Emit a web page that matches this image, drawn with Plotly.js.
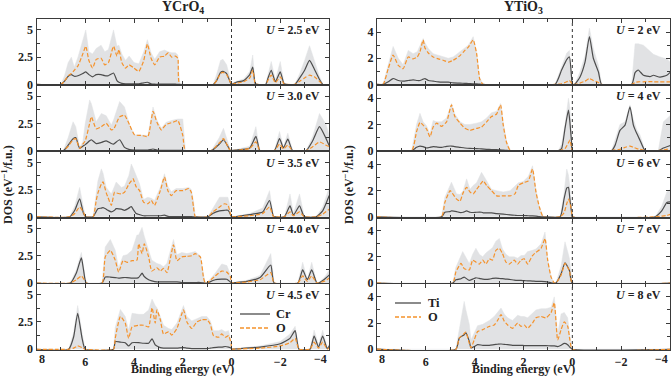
<!DOCTYPE html>
<html>
<head>
<meta charset="utf-8">
<script src="https://cdn.plot.ly/plotly-3.0.1.min.js"></script>
<style>html,body{margin:0;padding:0;background:#fff;}#chart{width:672px;height:377px;}</style>
</head>
<body>
<div id="chart"></div>
<script>
// ---------- labels ----------
const colTitles = ['YCrO<sub>4</sub>', 'YTiO<sub>3</sub>'];
const crLabels = ['2.5', '3.0', '3.5', '4.0', '4.5'];
const tiLabels = ['2', '4', '6', '7', '8'];
const crLegend = ['Cr', 'O'];
const tiLegend = ['Ti', 'O'];
const xTicksInner = [6, 4, 2, 0, -2];
const xTicksEnds = [8, -4];

// ---------- YCrO4 panels ----------
const cr25_E = [8, 7.0, 6.85, 6.7, 6.57, 6.45, 6.3, 6.1, 5.98, 5.85, 5.7, 5.55, 5.35, 5.2, 5.05, 4.84, 4.7, 4.62, 4.5, 4.35, 4.2, 4.0, 3.8, 3.6, 3.45, 3.3, 3.15, 2.95, 2.75, 2.6, 2.45, 2.3, 2.2, 2.12, 0.75, 0.6, 0.45, 0.35, 0.2, 0.05, 0.0, -0.2, -0.5, -0.75, -0.87, -0.97, -1.05, -1.4, -1.5, -1.63, -1.8, -2.0, -2.15, -2.25, -2.6, -2.8, -3.0, -3.2, -3.4, -3.6, -3.75, -4.1];
const cr25_tot = [0, 0, 0.8, 2.0, 2.5, 1.6, 2.5, 4.0, 5.0, 3.0, 2.8, 3.3, 3.6, 3.0, 3.2, 5.0, 3.5, 3.6, 2.8, 2.2, 2.6, 2.0, 1.9, 3.0, 4.1, 2.9, 2.3, 3.0, 3.15, 3.0, 2.9, 2.9, 2.7, 0, 0, 1.0, 2.2, 2.3, 1.8, 0.5, 0.05, 0.3, 0.5, 1.2, 2.7, 0.1, 0, 0, 1.0, 2.1, 0.4, 2.1, 0.2, 0, 0, 1.0, 2.2, 3.55, 2.2, 0.8, 0, 0];
const cr25_cr = [0, 0, 0.3, 0.75, 0.9, 0.75, 0.8, 1.0, 1.15, 0.9, 0.7, 0.9, 0.9, 0.8, 0.8, 1.05, 0.35, 0.2, 0.1, 0.05, 0.05, 0.05, 0.05, 0.15, 0.2, 0.05, 0.02, 0.02, 0.02, 0.02, 0.02, 0.02, 0, 0, 0, 0.4, 1.1, 1.2, 1.0, 0.2, 0, 0.2, 0.35, 0.9, 1.6, 0.1, 0, 0, 0.6, 1.3, 0.25, 1.15, 0.1, 0, 0, 0.6, 1.3, 2.2, 1.4, 0.5, 0, 0];
const cr25_o = [0, 0, 0.3, 0.8, 1.0, 1.3, 1.7, 2.8, 3.5, 2.2, 1.5, 2.3, 2.4, 1.8, 2.0, 3.5, 2.6, 3.2, 2.0, 1.5, 1.8, 1.5, 1.2, 2.2, 3.7, 2.4, 1.8, 2.5, 2.6, 2.9, 2.5, 2.6, 2.4, 0, 0, 0.4, 1.0, 1.1, 0.9, 0.2, 0, 0.1, 0.25, 0.6, 1.3, 0.1, 0, 0, 0.4, 0.85, 0.15, 0.7, 0.05, 0, 0, 0.3, 0.6, 0.85, 0.7, 0.3, 0, 0];

const cr30_E = [8, 6.9, 6.7, 6.5, 6.39, 6.23, 6.1, 6.0, 5.82, 5.75, 5.55, 5.34, 5.14, 4.93, 4.84, 4.59, 4.39, 4.18, 3.98, 3.7, 3.43, 3.22, 3.06, 2.88, 2.68, 2.4, 2.2, 2.0, 1.89, 0.83, 0.5, 0.33, 0.15, 0.05, 0, -0.19, -0.75, -1.0, -1.15, -1.2, -1.76, -1.97, -2.13, -2.31, -2.51, -3.06, -3.33, -3.61, -3.88, -4.02];
const cr30_tot = [0, 0, 1.2, 2.65, 2.2, 0.3, 0.8, 2.5, 4.65, 4.3, 2.65, 3.4, 3.2, 2.35, 2.8, 4.5, 4.0, 2.35, 1.45, 1.45, 1.4, 4.0, 2.8, 2.05, 2.6, 2.8, 2.9, 2.9, 0, 0, 1.2, 2.05, 0.8, 0.1, 0.05, 0.1, 0.4, 2.2, 0.1, 0, 0, 1.75, 0.35, 1.6, 0, 0, 1.3, 3.4, 2.4, 1.3];
const cr30_cr = [0, 0, 0.5, 1.1, 1.2, 0.2, 0.4, 0.55, 0.9, 1.0, 0.65, 0.75, 0.9, 0.65, 0.6, 1.0, 0.3, 0.1, 0.05, 0.05, 0.05, 0.15, 0.05, 0.02, 0.02, 0.02, 0.02, 0.02, 0, 0, 0.6, 1.0, 0.4, 0, 0, 0.05, 0.25, 1.3, 0.05, 0, 0, 1.1, 0.25, 1.05, 0, 0, 0.9, 2.2, 1.1, 0.4];
const cr30_o = [0, 0, 0.4, 1.0, 1.1, 0.2, 0.6, 0.9, 2.5, 3.1, 2.0, 2.2, 2.5, 1.9, 1.95, 3.1, 3.25, 2.35, 1.45, 1.4, 1.3, 3.6, 2.6, 1.9, 2.4, 2.6, 2.75, 1.4, 0, 0, 0.7, 1.1, 0.4, 0, 0, 0.02, 0.2, 0.8, 0.03, 0, 0, 0.6, 0.15, 0.5, 0, 0, 0.35, 0.8, 0.5, 0.35];

const cr35_E = [8, 6.64, 6.43, 6.23, 6.07, 5.98, 5.68, 5.55, 5.48, 5.34, 5.27, 5.14, 5.07, 4.93, 4.8, 4.73, 4.52, 4.39, 4.21, 4.11, 4.04, 3.91, 3.77, 3.61, 3.43, 3.29, 3.16, 2.92, 2.75, 2.61, 2.47, 2.27, 1.99, 1.75, 1.65, 1.56, 1.48, 0.97, 0.77, 0.49, 0.29, 0.15, 0.08, 0, -0.19, -0.74, -1.28, -1.56, -1.72, -1.8, -2.17, -2.4, -2.54, -2.79, -2.99, -3.47, -3.74, -4.01];
const cr35_tot = [0, 0, 1.0, 2.7, 0.8, 0, 0, 2.0, 3.3, 4.4, 4.0, 2.7, 2.5, 2.1, 2.8, 3.2, 2.7, 2.8, 3.8, 4.85, 4.5, 3.8, 3.0, 1.6, 1.8, 1.7, 1.5, 2.7, 3.95, 2.8, 2.3, 2.6, 2.6, 2.7, 2.5, 1.5, 0, 0, 0.7, 1.8, 1.8, 1.8, 1.2, 0, 0.05, 0.3, 0.8, 2.4, 0.1, 0, 0, 2.1, 0.3, 2.1, 0, 0, 0.9, 2.7];
const cr35_cr = [0, 0, 0.6, 1.65, 0.3, 0, 0, 0.5, 0.75, 0.8, 0.85, 0.7, 0.6, 0.45, 0.6, 0.75, 0.7, 0.6, 0.8, 0.95, 0.7, 0.3, 0.2, 0.1, 0.1, 0.1, 0.1, 0.1, 0.15, 0.05, 0.02, 0.02, 0.02, 0.02, 0.02, 0.01, 0, 0, 0.3, 0.55, 0.6, 0.6, 0.4, 0, 0.03, 0.2, 0.45, 1.5, 0.05, 0, 0, 1.0, 0.15, 1.0, 0, 0, 0.55, 1.95];
const cr35_o = [0, 0, 0.3, 0.9, 0.4, 0, 0, 1.5, 2.2, 3.0, 3.2, 2.2, 1.8, 1.05, 2.25, 2.2, 2.1, 2.25, 3.0, 3.3, 3.5, 2.75, 2.4, 1.35, 1.2, 1.5, 1.05, 2.4, 3.65, 2.4, 1.95, 2.4, 2.4, 2.6, 2.25, 0.9, 0, 0, 0.45, 0.9, 1.2, 1.1, 0.6, 0, 0.02, 0.1, 0.3, 0.9, 0.03, 0, 0, 0.45, 0.1, 0.45, 0, 0, 0.25, 0.7];

const cr40_E = [8, 6.61, 6.37, 6.16, 6.07, 5.96, 5.31, 5.18, 4.97, 4.77, 4.63, 4.45, 4.29, 4.08, 3.88, 3.81, 3.67, 3.58, 3.4, 3.27, 3.06, 2.92, 2.79, 2.65, 2.38, 2.24, 2.04, 1.83, 1.63, 1.49, 1.28, 1.15, 1.08, 1.01, 0.67, 0.4, 0.19, 0.05, 0, -0.08, -0.63, -1.17, -1.61, -1.75, -2.72, -2.92, -3.11, -3.29, -3.5, -3.57, -3.84, -4.04];
const cr40_tot = [0, 0, 1.2, 2.8, 1.5, 0, 0, 3.3, 4.0, 3.0, 1.4, 2.5, 2.6, 3.0, 4.4, 4.4, 5.1, 4.3, 3.0, 2.1, 1.8, 1.7, 1.5, 1.8, 4.0, 2.6, 2.8, 2.7, 2.8, 2.9, 2.5, 1.0, 0, 0, 0.9, 1.75, 1.6, 0.8, 0, 0.05, 0.25, 0.7, 2.7, 0, 0, 1.9, 0.3, 1.9, 0, 0, 0.6, 1.3];
const cr40_cr = [0, 0, 0.9, 2.3, 1.2, 0, 0, 0.55, 0.55, 0.5, 0.45, 0.5, 0.5, 0.45, 0.45, 0.5, 0.9, 0.6, 0.3, 0.2, 0.1, 0.1, 0.1, 0.1, 0.1, 0.1, 0.05, 0.05, 0.05, 0.05, 0.05, 0.02, 0, 0, 0.3, 0.35, 0.35, 0.1, 0, 0.02, 0.15, 0.5, 1.65, 0, 0, 1.2, 0.3, 1.2, 0, 0, 0.4, 0.8];
const cr40_o = [0, 0, 0.3, 0.65, 0.4, 0, 0, 2.4, 3.0, 2.1, 1.0, 2.05, 1.9, 2.05, 2.1, 3.6, 2.7, 3.6, 2.4, 1.1, 1.4, 1.1, 1.35, 0.95, 3.5, 2.05, 2.4, 2.45, 2.5, 2.7, 2.4, 0.5, 0, 0, 0.65, 1.1, 1.0, 0.6, 0, 0.01, 0.1, 0.3, 0.95, 0, 0, 0.65, 0.15, 0.65, 0, 0, 0.2, 0.5];

const cr45_E = [8, 6.68, 6.48, 6.31, 6.13, 6.0, 4.84, 4.77, 4.56, 4.36, 4.22, 4.08, 3.81, 3.61, 3.4, 3.26, 3.13, 3.06, 2.92, 2.79, 2.58, 2.45, 2.24, 1.97, 1.83, 1.63, 1.42, 1.22, 1.01, 0.87, 0.74, 0.53, 0.4, 0.26, 0.12, 0.01, 0, -0.08, -1.17, -2.0, -2.4, -2.61, -2.77, -3.22, -3.39, -3.57, -3.74, -3.93, -4.04];
const cr45_tot = [0, 0, 1.5, 4.0, 1.5, 0, 0, 2.0, 3.65, 3.0, 1.75, 3.3, 3.2, 3.2, 3.6, 4.6, 4.0, 3.8, 3.0, 2.2, 1.9, 1.8, 2.4, 4.0, 3.0, 2.6, 2.8, 3.0, 3.0, 2.6, 1.7, 1.7, 1.8, 1.6, 1.7, 0.7, 0, 0.05, 0.3, 0.7, 1.4, 2.1, 0, 0, 1.75, 0.4, 1.75, 0.1, 0.6];
const cr45_cr = [0, 0, 1.1, 3.3, 1.0, 0, 0, 0.7, 0.65, 0.6, 0.3, 0.6, 0.6, 0.55, 0.55, 0.95, 0.4, 0.3, 0.15, 0.1, 0.1, 0.1, 0.1, 0.15, 0.1, 0.05, 0.05, 0.05, 0.05, 0.1, 0.15, 0.2, 0.2, 0.25, 0.2, 0.1, 0, 0.02, 0.2, 0.5, 1.0, 1.7, 0, 0, 1.2, 0.2, 1.2, 0.05, 0.4];
const cr45_o = [0, 0, 0.1, 0.3, 0.15, 0, 0, 1.0, 3.0, 2.4, 1.0, 2.05, 2.2, 2.2, 2.05, 3.8, 2.4, 3.6, 2.7, 1.4, 1.6, 1.3, 1.9, 3.6, 2.5, 1.9, 2.5, 2.7, 2.7, 2.3, 1.25, 1.1, 1.4, 1.1, 1.25, 0.45, 0, 0.01, 0.1, 0.3, 0.6, 1.0, 0, 0, 0.65, 0.1, 0.65, 0.02, 0.2];

// ---------- YTiO3 panels ----------
const ti2_E = [8, 7.75, 7.54, 7.34, 7.13, 6.93, 6.72, 6.52, 6.35, 6.24, 6.11, 6.04, 5.9, 5.7, 5.49, 5.29, 5.08, 4.88, 4.6, 4.4, 4.26, 4.06, 3.92, 3.79, 3.65, 0.71, 0.44, 0.23, 0.12, 0.03, 0, -0.11, -0.31, -0.52, -0.7, -0.86, -1.07, -1.2, -2.43, -2.57, -2.7, -2.91, -3.18, -3.32, -3.59, -3.87, -4.02];
const ti2_tot = [0, 0, 1.5, 2.9, 2.0, 1.5, 2.6, 2.35, 2.5, 3.0, 3.5, 3.2, 2.75, 2.35, 2.25, 2.1, 2.0, 2.1, 2.5, 2.8, 3.0, 3.65, 2.5, 0.5, 0, 0, 1.4, 2.4, 2.6, 1.0, 0, 0.05, 0.95, 2.2, 4.3, 2.75, 1.45, 0, 0, 3.1, 3.1, 3.0, 2.5, 2.3, 2.1, 1.95, 1.7];
const ti2_ti = [0, 0, 0.2, 0.45, 0.3, 0.25, 0.3, 0.35, 0.3, 0.3, 0.4, 0.45, 0.3, 0.25, 0.2, 0.18, 0.17, 0.12, 0.1, 0.08, 0.07, 0.05, 0.05, 0.02, 0, 0, 1.1, 1.9, 2.1, 0.5, 0, 0.03, 0.55, 1.7, 3.65, 2.0, 0.95, 0, 0, 0.9, 1.1, 0.7, 0.6, 0.7, 0.55, 0.7, 0.95];
const ti2_o = [0, 0, 1.2, 2.25, 1.45, 1.2, 2.1, 1.95, 2.1, 2.5, 3.4, 2.8, 2.4, 2.1, 1.95, 1.85, 1.7, 1.85, 2.2, 2.6, 2.85, 3.4, 2.35, 0.4, 0, 0, 0.05, 0.2, 0.3, 0.1, 0, 0.01, 0.1, 0.25, 0.45, 0.3, 0.15, 0, 0, 0.15, 0.2, 0.2, 0.22, 0.2, 0.2, 0.2, 0.2];

const ti4_E = [8, 6.58, 6.38, 6.24, 6.11, 5.97, 5.83, 5.7, 5.56, 5.36, 5.15, 4.95, 4.81, 4.6, 4.4, 4.19, 3.92, 3.72, 3.51, 3.31, 3.1, 2.94, 2.83, 2.69, 2.53, 0.57, 0.44, 0.3, 0.16, 0.1, 0.03, 0, -1.61, -1.75, -1.95, -2.16, -2.36, -2.5, -2.64, -2.77, -2.98, -3.52, -3.73, -4.02];
const ti4_tot = [0, 0, 2.0, 2.85, 2.2, 1.9, 1.3, 2.3, 2.2, 2.2, 2.5, 3.6, 2.8, 2.2, 2.0, 2.0, 2.1, 2.2, 2.5, 2.9, 3.0, 3.6, 2.2, 0.7, 0, 0, 0.5, 2.0, 4.0, 3.3, 1.0, 0, 0, 0.8, 2.0, 2.2, 3.5, 2.4, 1.6, 1.2, 0, 0, 2.2, 2.7];
const ti4_ti = [0, 0, 0.25, 0.35, 0.3, 0.2, 0.25, 0.3, 0.28, 0.25, 0.33, 0.35, 0.3, 0.25, 0.2, 0.17, 0.15, 0.13, 0.1, 0.08, 0.07, 0.05, 0.04, 0.02, 0, 0, 0.15, 1.7, 3.1, 2.2, 0.6, 0, 0, 0.4, 1.55, 1.95, 3.35, 1.95, 1.3, 0.8, 0, 0, 0.2, 0.4];
const ti4_o = [0, 0, 1.45, 2.15, 1.95, 1.65, 1.05, 1.8, 2.1, 1.85, 2.2, 3.5, 2.6, 2.1, 1.7, 1.55, 1.7, 1.8, 2.2, 2.6, 2.8, 3.5, 1.95, 0.6, 0, 0, 0.05, 0.15, 0.6, 0.8, 0.2, 0, 0, 0.05, 0.1, 0.25, 0.35, 0.25, 0.15, 0.1, 0, 0, 0.05, 0.15];

const ti6_E = [8, 5.36, 5.22, 5.01, 4.95, 4.74, 4.6, 4.47, 4.33, 4.19, 4.06, 3.92, 3.72, 3.65, 3.51, 3.31, 3.1, 2.83, 2.55, 2.35, 2.21, 2.01, 1.8, 1.63, 1.49, 1.35, 1.19, 0.5, 0.34, 0.23, 0.16, 0.1, 0.03, 0, -3.39, -3.66, -3.87, -4.02];
const ti6_tot = [0, 0, 1.5, 2.5, 2.65, 1.75, 1.7, 2.0, 2.9, 2.1, 2.4, 2.6, 3.4, 3.2, 2.75, 2.1, 2.0, 1.9, 2.0, 2.4, 2.6, 2.7, 3.1, 3.9, 2.1, 0.8, 0, 0, 1.8, 3.65, 3.2, 2.3, 0.8, 0, 0, 0.8, 1.9, 2.1];
const ti6_ti = [0, 0, 0.35, 0.4, 0.45, 0.4, 0.33, 0.35, 0.45, 0.35, 0.33, 0.35, 0.35, 0.3, 0.3, 0.3, 0.25, 0.2, 0.15, 0.12, 0.1, 0.1, 0.08, 0.07, 0.05, 0.02, 0, 0, 1.35, 2.2, 2.25, 1.35, 0.3, 0, 0, 0.45, 1.1, 1.15];
const ti6_o = [0, 0, 1.1, 2.0, 1.9, 1.35, 1.2, 1.85, 2.25, 1.9, 1.75, 2.1, 2.6, 2.75, 2.4, 2.0, 1.6, 1.6, 1.6, 1.75, 2.4, 2.6, 2.75, 3.65, 1.9, 0.75, 0, 0, 0.3, 1.0, 1.35, 1.1, 0.45, 0, 0, 0.05, 0.1, 0.2];

const ti7_E = [8, 4.9, 4.77, 4.56, 4.49, 4.43, 4.22, 4.08, 3.95, 3.81, 3.67, 3.54, 3.4, 3.27, 3.13, 2.99, 2.86, 2.72, 2.58, 2.38, 2.24, 2.1, 1.97, 1.83, 1.63, 1.49, 1.28, 1.12, 1.01, 0.87, 0.74, 0.67, 0.46, 0.3, 0.12, 0, -4.1];
const ti7_tot = [0, 0, 1.2, 2.2, 2.4, 2.2, 1.5, 2.2, 2.65, 2.2, 2.0, 2.3, 2.5, 2.7, 3.2, 3.4, 2.6, 2.2, 2.0, 2.0, 1.9, 2.1, 2.1, 2.4, 2.5, 2.6, 3.0, 3.9, 1.9, 0.5, 0, 0, 1.3, 3.15, 1.9, 0, 0];
const ti7_ti = [0, 0, 0.25, 0.33, 0.4, 0.45, 0.2, 0.3, 0.4, 0.35, 0.3, 0.28, 0.3, 0.35, 0.38, 0.35, 0.33, 0.3, 0.28, 0.22, 0.2, 0.2, 0.18, 0.17, 0.15, 0.13, 0.12, 0.1, 0.08, 0.02, 0, 0, 0.7, 1.55, 0.95, 0, 0];
const ti7_o = [0, 0, 0.85, 1.5, 1.3, 1.1, 1.0, 1.75, 1.6, 1.45, 1.75, 1.45, 1.85, 1.75, 2.5, 2.65, 2.25, 1.6, 1.45, 1.75, 1.45, 1.75, 1.85, 1.45, 2.1, 2.35, 2.65, 3.4, 1.75, 0.45, 0, 0, 0.6, 1.5, 0.95, 0, 0];

const ti8_E = [8, 4.77, 4.63, 4.43, 4.36, 4.22, 4.15, 4.02, 3.88, 3.67, 3.4, 3.2, 3.06, 2.92, 2.79, 2.65, 2.45, 2.24, 2.1, 1.97, 1.83, 1.63, 1.49, 1.28, 1.08, 0.87, 0.74, 0.6, 0.46, 0.33, 0.19, 0.1, 0, -4.1];
const ti8_tot = [0, 0, 1.5, 3.65, 3.0, 1.9, 0.7, 1.2, 1.8, 1.9, 2.2, 2.5, 2.8, 3.15, 2.7, 2.4, 2.2, 2.6, 2.5, 2.5, 2.4, 2.8, 3.0, 3.1, 3.1, 3.2, 4.0, 1.2, 2.7, 2.8, 2.4, 1.0, 0, 0];
const ti8_ti = [0, 0, 0.85, 1.1, 1.25, 0.6, 0.1, 0.2, 0.35, 0.3, 0.3, 0.35, 0.38, 0.4, 0.37, 0.35, 0.3, 0.3, 0.3, 0.28, 0.27, 0.28, 0.28, 0.28, 0.27, 0.26, 0.26, 0.2, 0.3, 0.45, 0.35, 0.15, 0, 0];
const ti8_o = [0, 0, 0.85, 1.2, 1.3, 0.45, 0.1, 0.7, 1.35, 1.5, 1.75, 1.85, 2.2, 2.65, 2.15, 1.85, 1.6, 2.0, 1.75, 1.85, 1.6, 2.0, 2.4, 2.5, 2.4, 2.8, 3.55, 0.7, 1.5, 2.1, 1.75, 0.7, 0, 0];

const panelsCr = [
  [cr25_E, cr25_tot, cr25_cr, cr25_o],
  [cr30_E, cr30_tot, cr30_cr, cr30_o],
  [cr35_E, cr35_tot, cr35_cr, cr35_o],
  [cr40_E, cr40_tot, cr40_cr, cr40_o],
  [cr45_E, cr45_tot, cr45_cr, cr45_o]
];
const panelsTi = [
  [ti2_E, ti2_tot, ti2_ti, ti2_o],
  [ti4_E, ti4_tot, ti4_ti, ti4_o],
  [ti6_E, ti6_tot, ti6_ti, ti6_o],
  [ti7_E, ti7_tot, ti7_ti, ti7_o],
  [ti8_E, ti8_tot, ti8_ti, ti8_o]
];

// ---------- styling ----------
const FONT = 'Liberation Serif, DejaVu Serif, serif';
const GRAY_FILL = '#e1e2e4';
const METAL = '#4d4d4d';
const OXY = '#f5922b';
const FRAME = '#3a3a3a';
const TXT = '#222';

const W = 672, H = 377;
const M = {l: 36, r: 2, t: 19, b: 27};
const PW = W - M.l - M.r, PH = H - M.t - M.b;
const colDom = [[0.0008, (329 - M.l) / PW], [(377 - M.l) / PW, 1.0]];
function px2x(px) { return (px - M.l) / PW; }
function py2y(py) { return (M.t + PH - py) / PH; }

const traces = [];
const layout = {
  width: W, height: H, margin: M,
  paper_bgcolor: '#fff', plot_bgcolor: '#fff',
  showlegend: false,
  font: {family: FONT, size: 12, color: TXT, weight: 'bold'},
  annotations: [], shapes: []
};

function axName(i) { return i === 1 ? '' : String(i); }
function fmtTick(v) { return v < 0 ? '\u2212' + Math.abs(v) : String(v); }

for (let c = 0; c < 2; c++) {
  const panels = c === 0 ? panelsCr : panelsTi;
  const labels = c === 0 ? crLabels : tiLabels;
  for (let r = 0; r < 5; r++) {
    const idx = c * 5 + r + 1;
    const n = axName(idx);
    const [E, tot, met, o] = panels[r];
    traces.push({x: E, y: tot, xaxis: 'x' + n, yaxis: 'y' + n, type: 'scatter', mode: 'lines',
      fill: 'tozeroy', fillcolor: GRAY_FILL, line: {color: GRAY_FILL, width: 0.5}, hoverinfo: 'skip'});
    traces.push({x: E, y: met, xaxis: 'x' + n, yaxis: 'y' + n, type: 'scatter', mode: 'lines',
      line: {color: METAL, width: 1.2, shape: 'spline', smoothing: 0.5}, hoverinfo: 'skip'});
    traces.push({x: E, y: o, xaxis: 'x' + n, yaxis: 'y' + n, type: 'scatter', mode: 'lines',
      line: {color: OXY, width: 1.2, dash: '4px,2px', shape: 'spline', smoothing: 0.5}, hoverinfo: 'skip'});

    const yTop = 1 - r * 0.2, yBot = yTop - 0.2;
    layout['xaxis' + n] = {
      domain: colDom[c], anchor: 'y' + n, range: [8, -4],
      tickmode: 'array', tickvals: xTicksInner, ticktext: xTicksInner.map(fmtTick),
      showticklabels: r === 4, ticklabelstandoff: 1,
      ticks: 'inside', ticklen: 4, tickwidth: 1, tickcolor: FRAME,
      minor: {dtick: 1, tick0: 0, ticks: 'inside', ticklen: 3, tickcolor: FRAME},
      showline: true, mirror: 'ticks', linecolor: FRAME, linewidth: 1,
      showgrid: false, zeroline: false, fixedrange: true,
      tickfont: {family: FONT, size: 12, color: TXT, weight: 'bold'}
    };
    layout['yaxis' + n] = {
      domain: [yBot, yTop], anchor: 'x' + n,
      range: c === 0 ? [-0.07, 6.0] : [-0.06, 5.0],
      tickmode: 'array', tickvals: c === 0 ? [0, 2.5, 5] : [0, 2, 4],
      ticks: 'inside', ticklen: 4, tickwidth: 1, tickcolor: FRAME,
      minor: {dtick: c === 0 ? 1.25 : 1, tick0: 0, ticks: 'inside', ticklen: 3, tickcolor: FRAME},
      showline: true, mirror: 'ticks', linecolor: FRAME, linewidth: 1,
      showgrid: false, zeroline: false, fixedrange: true,
      tickfont: {family: FONT, size: 12, color: TXT, weight: 'bold'}
    };
    layout.annotations.push({
      xref: 'x' + n + ' domain', yref: 'y' + n + ' domain', x: 0.975, y: 0.83,
      xanchor: 'right', yanchor: 'middle', showarrow: false,
      text: '<b><i>U</i> = ' + labels[r] + ' eV</b>',
      font: {family: FONT, size: 12, color: TXT}
    });
  }
  // end tick labels (8 and −4), drawn just inside the frame as in the reference
  const bottomX = 'x' + axName(c * 5 + 5);
  xTicksEnds.forEach(v => {
    layout.annotations.push({xref: bottomX, yref: 'paper', x: v, y: py2y(359), showarrow: false,
      xanchor: v > 0 ? 'left' : 'right', yanchor: 'middle',
      text: '<b>' + fmtTick(v) + '</b>', font: {family: FONT, size: 12, color: TXT}});
  });
  // dotted Fermi level line
  layout.shapes.push({type: 'line', xref: 'x' + axName(c * 5 + 1), yref: 'paper',
    x0: 0, x1: 0, y0: 0, y1: 1, line: {color: '#333', width: 1, dash: 'dot'}});
  // column title
  const xc = (colDom[c][0] + colDom[c][1]) / 2;
  layout.annotations.push({xref: 'paper', yref: 'paper', x: xc, y: py2y(8), showarrow: false,
    xanchor: 'center', yanchor: 'middle', text: '<b>' + colTitles[c] + '</b>',
    font: {family: FONT, size: 14, color: TXT}});
  // x-axis title
  layout.annotations.push({xref: 'paper', yref: 'paper', x: xc, y: py2y(369.5), showarrow: false,
    xanchor: 'center', yanchor: 'middle', text: '<b>Binding energy (eV)</b>',
    font: {family: FONT, size: 12, color: TXT}});
  // y-axis title
  const yx = c === 0 ? 7 : 348;
  layout.annotations.push({xref: 'paper', yref: 'paper', x: px2x(yx), y: py2y(185), showarrow: false,
    xanchor: 'center', yanchor: 'middle', textangle: -90,
    text: '<b>DOS (eV<sup>−1</sup>/f.u.)</b>', font: {family: FONT, size: 12, color: TXT}});
}

// manual legends
const legendSpecs = [
  {names: crLegend, x0: 240, x1: 270, tx: 274, ys: [314, 328]},
  {names: tiLegend, x0: 395, x1: 421, tx: 426, ys: [303, 317]}
];
legendSpecs.forEach(L => {
  L.names.forEach((nm, k) => {
    const y = py2y(L.ys[k]);
    layout.shapes.push({type: 'line', xref: 'paper', yref: 'paper', x0: px2x(L.x0), x1: px2x(L.x1), y0: y, y1: y,
      line: k === 0 ? {color: METAL, width: 1.3} : {color: OXY, width: 1.3, dash: '4px,2px'}});
    layout.annotations.push({xref: 'paper', yref: 'paper', x: px2x(L.tx), y: y, showarrow: false,
      xanchor: 'left', yanchor: 'middle', text: '<b>' + nm + '</b>', font: {family: FONT, size: 12.5, color: TXT}});
  });
});

Plotly.newPlot('chart', traces, layout, {staticPlot: true, displayModeBar: false});
</script>
</body>
</html>
